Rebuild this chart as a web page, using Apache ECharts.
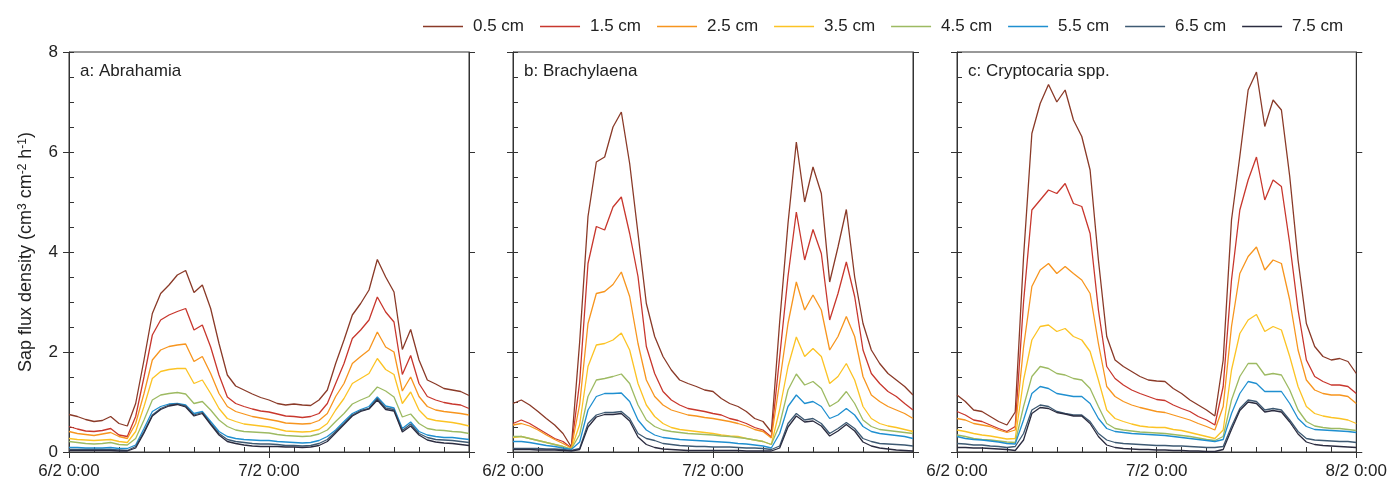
<!DOCTYPE html>
<html><head><meta charset="utf-8">
<script src="https://cdn.jsdelivr.net/npm/echarts@6/dist/echarts.min.js"></script>
<style>html,body{margin:0;padding:0;background:#fff}#c{width:1390px;height:483px}</style>
</head><body><div id="c"></div>
<script>
// ---------- data ----------
const hours = [0,1,2,3,4,5,6,7,8,9,10,11,12,13,14,15,16,17,18,19,20,21,22,23,24,25,26,27,28,29,30,31,32,33,34,35,36,37,38,39,40,41,42,43,44,45,46,47,48];
const depthNames = ['0.5 cm','1.5 cm','2.5 cm','3.5 cm','4.5 cm','5.5 cm','6.5 cm','7.5 cm'];
const panelTitles = ['a: Abrahamia','b: Brachylaena','c: Cryptocaria spp.'];
const xTickLabels = {0:'6/2 0:00', 24:'7/2 0:00', 48:'8/2 0:00'};
const yAxisTitle = 'Sap flux density';

// Panel a: Abrahamia
const A05 = [0.75,0.71,0.65,0.61,0.63,0.71,0.57,0.52,0.97,1.84,2.77,3.17,3.34,3.54,3.63,3.19,3.34,2.87,2.17,1.54,1.32,1.24,1.16,1.09,1.04,0.97,0.94,0.96,0.94,0.93,1.04,1.24,1.77,2.24,2.74,2.97,3.24,3.85,3.5,3.2,2.05,2.45,1.84,1.44,1.36,1.27,1.24,1.21,1.13];
const A15 = [0.51,0.46,0.42,0.41,0.43,0.47,0.34,0.31,0.71,1.5,2.34,2.64,2.74,2.81,2.87,2.44,2.54,2.1,1.54,1.1,0.97,0.91,0.86,0.82,0.8,0.76,0.72,0.71,0.69,0.71,0.77,0.97,1.37,1.77,2.27,2.44,2.64,3.1,2.8,2.6,1.55,1.93,1.37,1.11,1.04,0.99,0.96,0.94,0.87];
const A25 = [0.41,0.37,0.35,0.33,0.36,0.39,0.31,0.27,0.57,1.17,1.84,2.04,2.11,2.14,2.16,1.81,1.91,1.57,1.17,0.91,0.81,0.76,0.71,0.68,0.65,0.62,0.58,0.57,0.56,0.57,0.63,0.77,1.11,1.37,1.77,1.91,2.04,2.4,2.1,2.0,1.22,1.5,1.11,0.91,0.84,0.81,0.79,0.77,0.74];
const A35 = [0.27,0.25,0.24,0.23,0.24,0.25,0.21,0.19,0.41,0.91,1.47,1.61,1.65,1.67,1.67,1.37,1.44,1.17,0.87,0.67,0.61,0.56,0.54,0.52,0.5,0.46,0.42,0.41,0.4,0.41,0.45,0.57,0.84,1.07,1.37,1.47,1.57,1.87,1.65,1.55,0.97,1.2,0.84,0.67,0.63,0.61,0.59,0.56,0.52];
const A45 = [0.21,0.19,0.17,0.16,0.17,0.19,0.15,0.14,0.27,0.64,1.04,1.14,1.17,1.19,1.16,0.97,1.01,0.84,0.64,0.51,0.44,0.41,0.4,0.39,0.38,0.35,0.33,0.32,0.31,0.32,0.36,0.44,0.61,0.77,0.96,1.04,1.11,1.3,1.22,1.1,0.7,0.76,0.57,0.47,0.44,0.43,0.41,0.4,0.37];
const A55 = [0.09,0.09,0.08,0.08,0.08,0.09,0.07,0.07,0.14,0.47,0.81,0.91,0.96,0.97,0.94,0.77,0.81,0.61,0.41,0.31,0.27,0.25,0.24,0.23,0.23,0.21,0.2,0.19,0.18,0.19,0.23,0.31,0.44,0.61,0.77,0.85,0.91,1.1,0.92,0.88,0.47,0.6,0.41,0.34,0.31,0.29,0.29,0.27,0.25];
const A65 = [0.05,0.05,0.05,0.05,0.05,0.05,0.04,0.03,0.11,0.41,0.74,0.87,0.94,0.96,0.92,0.74,0.79,0.57,0.37,0.25,0.21,0.19,0.17,0.16,0.16,0.15,0.13,0.13,0.12,0.13,0.17,0.25,0.41,0.57,0.74,0.83,0.87,1.07,0.88,0.85,0.43,0.56,0.37,0.29,0.25,0.24,0.23,0.21,0.19];
const A75 = [0.03,0.03,0.03,0.03,0.03,0.03,0.02,0.02,0.08,0.38,0.72,0.85,0.92,0.95,0.9,0.72,0.77,0.55,0.34,0.21,0.17,0.14,0.12,0.11,0.11,0.11,0.1,0.1,0.09,0.1,0.13,0.21,0.38,0.55,0.72,0.81,0.86,1.04,0.85,0.82,0.4,0.52,0.34,0.24,0.2,0.18,0.17,0.15,0.13];

// Panel b: Brachylaena
const B05 = [0.97,1.04,0.94,0.81,0.67,0.54,0.37,0.1,2.2,4.71,5.8,5.9,6.5,6.8,5.77,4.37,2.97,2.31,1.91,1.64,1.44,1.37,1.31,1.24,1.21,1.07,0.97,0.91,0.81,0.67,0.61,0.4,2.6,4.57,6.2,5.0,5.7,5.17,3.4,4.1,4.85,3.5,2.57,2.04,1.77,1.57,1.44,1.31,1.14];
const B15 = [0.57,0.64,0.57,0.47,0.37,0.27,0.21,0.08,1.4,3.77,4.51,4.44,4.9,5.1,4.37,3.51,2.11,1.57,1.21,1.04,0.94,0.87,0.84,0.81,0.77,0.74,0.67,0.63,0.57,0.49,0.44,0.3,1.9,3.51,4.8,3.84,4.45,3.97,2.64,3.17,3.8,3.11,2.04,1.57,1.37,1.21,1.11,0.97,0.84];
const B25 = [0.54,0.57,0.52,0.44,0.34,0.25,0.17,0.08,0.95,2.57,3.17,3.21,3.35,3.6,3.11,2.17,1.44,1.11,0.94,0.84,0.79,0.74,0.72,0.69,0.67,0.64,0.61,0.57,0.52,0.45,0.41,0.28,1.4,2.57,3.4,2.84,3.14,2.84,2.04,2.31,2.71,2.31,1.51,1.14,1.01,0.91,0.84,0.77,0.67];
const B35 = [0.29,0.31,0.27,0.23,0.19,0.15,0.11,0.06,0.55,1.71,2.14,2.17,2.24,2.38,2.04,1.37,0.94,0.71,0.57,0.49,0.45,0.43,0.41,0.39,0.37,0.34,0.32,0.31,0.27,0.24,0.21,0.15,0.85,1.71,2.3,1.91,2.07,1.91,1.37,1.51,1.77,1.44,0.91,0.67,0.57,0.52,0.49,0.45,0.41];
const B45 = [0.31,0.31,0.27,0.23,0.19,0.15,0.11,0.06,0.35,1.11,1.44,1.47,1.51,1.56,1.37,0.94,0.64,0.51,0.44,0.41,0.39,0.37,0.36,0.35,0.34,0.32,0.31,0.29,0.27,0.24,0.21,0.15,0.55,1.24,1.56,1.34,1.41,1.27,0.91,1.01,1.21,0.97,0.64,0.51,0.45,0.43,0.41,0.39,0.37];
const B55 = [0.21,0.21,0.19,0.16,0.13,0.11,0.08,0.05,0.2,0.84,1.11,1.17,1.17,1.18,1.01,0.64,0.44,0.34,0.29,0.27,0.25,0.24,0.23,0.22,0.21,0.2,0.19,0.17,0.16,0.14,0.12,0.08,0.37,0.91,1.14,0.97,1.01,0.91,0.67,0.74,0.87,0.74,0.51,0.41,0.37,0.35,0.33,0.31,0.27];
const B65 = [0.07,0.07,0.07,0.07,0.06,0.06,0.05,0.03,0.07,0.57,0.74,0.79,0.79,0.81,0.67,0.37,0.27,0.23,0.17,0.15,0.13,0.12,0.11,0.11,0.1,0.1,0.1,0.09,0.08,0.08,0.07,0.05,0.12,0.57,0.77,0.64,0.67,0.57,0.37,0.47,0.59,0.47,0.27,0.21,0.17,0.16,0.15,0.14,0.12];
const B75 = [0.05,0.05,0.05,0.04,0.04,0.04,0.03,0.02,0.05,0.5,0.7,0.75,0.75,0.77,0.62,0.3,0.15,0.09,0.06,0.05,0.04,0.03,0.03,0.03,0.03,0.03,0.03,0.03,0.02,0.02,0.02,0.02,0.08,0.5,0.72,0.6,0.62,0.52,0.32,0.42,0.55,0.42,0.2,0.12,0.08,0.06,0.04,0.03,0.02];

// Panel c: Cryptocaria spp.
const C05 = [1.14,1.01,0.84,0.81,0.71,0.61,0.54,0.8,3.9,6.37,6.97,7.35,7.0,7.24,6.64,6.31,5.64,3.84,2.31,1.84,1.71,1.61,1.51,1.44,1.42,1.41,1.27,1.17,1.04,0.94,0.84,0.72,1.84,4.64,5.91,7.24,7.6,6.51,7.04,6.84,5.51,3.84,2.57,2.11,1.91,1.84,1.87,1.81,1.57];
const C15 = [0.81,0.74,0.64,0.61,0.54,0.47,0.41,0.51,3.0,4.84,5.04,5.24,5.17,5.37,4.97,4.91,4.37,2.84,1.71,1.47,1.34,1.24,1.17,1.11,1.05,1.03,0.94,0.87,0.81,0.71,0.64,0.54,1.31,3.44,4.84,5.44,5.9,5.04,5.44,5.31,4.17,2.84,1.84,1.51,1.41,1.34,1.34,1.31,1.17];
const C25 = [0.67,0.64,0.57,0.54,0.51,0.44,0.39,0.44,2.1,3.31,3.64,3.77,3.57,3.71,3.57,3.44,3.17,2.17,1.31,1.11,1.01,0.94,0.89,0.85,0.81,0.79,0.74,0.69,0.64,0.57,0.51,0.44,0.91,2.51,3.57,3.91,4.1,3.64,3.84,3.77,3.04,2.04,1.44,1.24,1.17,1.14,1.14,1.11,0.97];
const C35 = [0.44,0.41,0.37,0.34,0.32,0.29,0.26,0.27,1.44,2.24,2.51,2.54,2.41,2.47,2.31,2.24,2.01,1.44,0.84,0.67,0.61,0.56,0.52,0.5,0.49,0.49,0.45,0.43,0.39,0.35,0.31,0.27,0.44,1.64,2.37,2.64,2.75,2.41,2.51,2.44,1.91,1.31,0.91,0.77,0.72,0.69,0.67,0.64,0.57];
const C45 = [0.34,0.31,0.27,0.25,0.24,0.22,0.2,0.19,0.91,1.51,1.71,1.67,1.57,1.54,1.47,1.44,1.27,0.91,0.57,0.47,0.44,0.42,0.4,0.39,0.38,0.37,0.35,0.33,0.31,0.28,0.25,0.23,0.31,1.04,1.51,1.77,1.77,1.54,1.57,1.54,1.24,0.84,0.61,0.52,0.49,0.47,0.47,0.45,0.43];
const C55 = [0.31,0.27,0.25,0.24,0.22,0.2,0.17,0.16,0.64,1.17,1.31,1.27,1.17,1.14,1.11,1.11,0.97,0.67,0.47,0.41,0.39,0.37,0.36,0.35,0.34,0.33,0.31,0.29,0.27,0.25,0.23,0.21,0.25,0.77,1.17,1.41,1.37,1.21,1.21,1.21,0.97,0.67,0.51,0.45,0.44,0.43,0.42,0.41,0.39];
const C65 = [0.17,0.16,0.14,0.14,0.12,0.11,0.09,0.11,0.37,0.84,0.94,0.91,0.81,0.77,0.74,0.74,0.61,0.37,0.24,0.19,0.17,0.16,0.15,0.14,0.13,0.13,0.12,0.12,0.11,0.1,0.09,0.09,0.11,0.51,0.87,1.04,1.01,0.84,0.87,0.84,0.64,0.41,0.27,0.24,0.23,0.22,0.21,0.21,0.19];
const C75 = [0.09,0.09,0.08,0.08,0.07,0.06,0.05,0.03,0.24,0.77,0.89,0.87,0.79,0.76,0.72,0.72,0.57,0.31,0.14,0.09,0.07,0.06,0.05,0.05,0.04,0.04,0.03,0.03,0.02,0.02,0.01,0.01,0.05,0.45,0.83,1.0,0.97,0.8,0.83,0.8,0.6,0.36,0.2,0.15,0.13,0.12,0.11,0.1,0.09];

const panels = [
  [A05,A15,A25,A35,A45,A55,A65,A75],
  [B05,B15,B25,B35,B45,B55,B65,B75],
  [C05,C15,C25,C35,C45,C55,C65,C75]
];

// ---------- style ----------
const colors = ['#8a3a28','#c8372d','#f7951e','#fcc324','#9dba62','#1f8fd0','#3e5a73','#2b2c40'];
const FONT = '"Liberation Sans", Arial, sans-serif';
const AX = '#333';
const gridLefts = [69, 513, 957];
const GT = 52, GW = 400, GH = 400;

const grid = [], xAxis = [], yAxis = [], series = [], title = [];
gridLefts.forEach((left, i) => {
  grid.push({left: left, top: GT, width: GW, height: GH, show: true, borderColor: AX, borderWidth: 1, backgroundColor: 'transparent'});
  title.push({text: panelTitles[i], left: left + 6, top: 58, textStyle: {fontSize: 17, fontWeight: 'normal', color: '#222', fontFamily: FONT}});
  xAxis.push({gridIndex: i, type: 'value', position: 'bottom', min: 0, max: 48, interval: 24,
    axisLine: {show: true, lineStyle: {color: AX, width: 1}},
    axisTick: {show: true, inside: false, length: 6, lineStyle: {color: AX}},
    axisLabel: {show: true, margin: 11, fontSize: 17, color: '#222', fontFamily: FONT,
      formatter: v => (i < 2 && v === 48) ? '' : (xTickLabels[v] || '')},
    splitLine: {show: false}});
  xAxis.push({gridIndex: i, type: 'value', position: 'bottom', min: 0, max: 48, interval: 3,
    axisLine: {show: false}, axisTick: {show: true, inside: true, length: 5, lineStyle: {color: AX}},
    axisLabel: {show: false}, splitLine: {show: false}});
  const yMain = {gridIndex: i, type: 'value', position: 'left', min: 0, max: 8, interval: 2,
    axisLine: {show: true, lineStyle: {color: AX, width: 1}},
    axisTick: {show: true, inside: false, length: 6, lineStyle: {color: AX}},
    axisLabel: {show: i === 0, margin: 11, fontSize: 17, color: '#222', fontFamily: FONT},
    splitLine: {show: false}};
  if (i === 0) {
    yMain.name = '{a|' + yAxisTitle + ' (cm}{s|3}{a| cm}{s|-2}{a| h}{s|-1}{a|)}';
    yMain.nameLocation = 'middle';
    yMain.nameGap = 34;
    yMain.nameRotate = 90;
    yMain.nameTextStyle = {fontFamily: FONT, color: '#222', fontSize: 18,
      rich: {a: {fontSize: 18, fontFamily: FONT, color: '#222'}, s: {fontSize: 12, fontFamily: FONT, color: '#222', verticalAlign: 'top'}}};
  }
  yAxis.push(yMain);
  yAxis.push({gridIndex: i, type: 'value', position: 'left', min: 0, max: 8, interval: 0.5,
    axisLine: {show: false}, axisTick: {show: true, inside: true, length: 5, lineStyle: {color: AX}},
    axisLabel: {show: false}, splitLine: {show: false}});
  yAxis.push({gridIndex: i, type: 'value', position: 'right', min: 0, max: 8, interval: 2,
    axisLine: {show: true, lineStyle: {color: AX}}, axisTick: {show: true, inside: false, length: 6, lineStyle: {color: AX}},
    axisLabel: {show: false}, splitLine: {show: false}});

  panels[i].forEach((vals, k) => {
    series.push({
      name: depthNames[k], type: 'line', xAxisIndex: 2 * i, yAxisIndex: 3 * i,
      data: hours.map((h, j) => [h, vals[j]]),
      symbol: 'none', showSymbol: false, smooth: false,
      lineStyle: {color: colors[k], width: 1.3}, itemStyle: {color: colors[k]},
      emphasis: {disabled: true}, silent: true
    });
  });
});

const chart = echarts.init(document.getElementById('c'), null, {renderer: 'canvas'});
chart.setOption({
  animation: false,
  backgroundColor: '#ffffff',
  color: colors,
  title: title,
  legend: {data: depthNames, left: 418, top: 13, icon: 'rect', itemWidth: 40, itemHeight: 1.5, itemGap: 16,
    selectedMode: false,
    textStyle: {fontSize: 17, color: '#222', fontFamily: FONT, padding: [0, 0, 0, 5]}},
  grid: grid, xAxis: xAxis, yAxis: yAxis, series: series
});
</script>
</body></html>
